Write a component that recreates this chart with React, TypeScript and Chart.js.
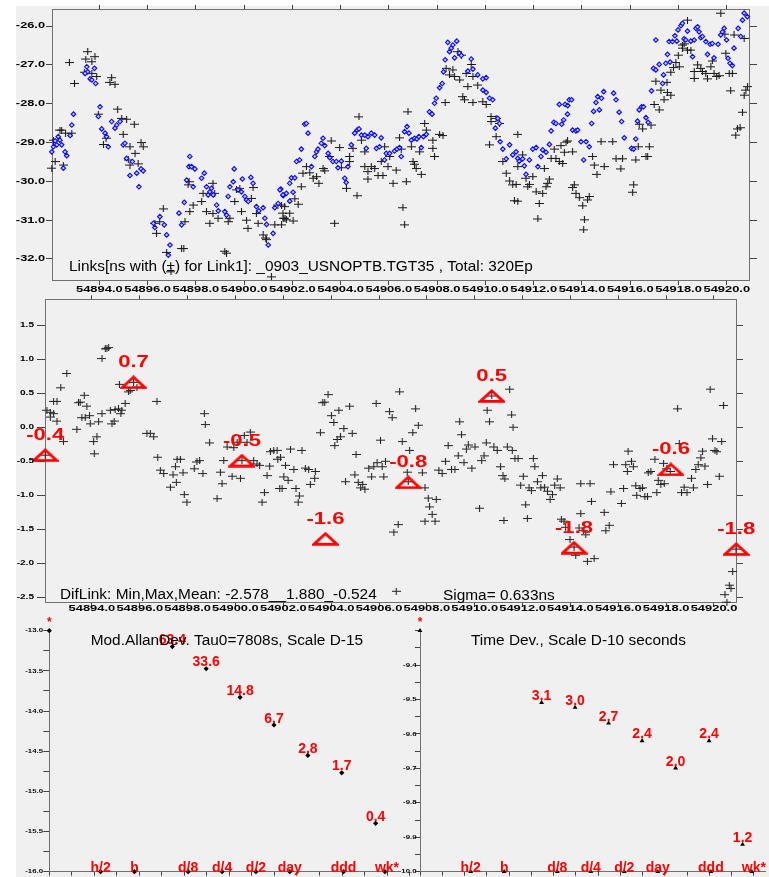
import React, { useEffect, useRef } from 'react';
import { Chart, registerables } from 'chart.js';
Chart.register(...registerables);

// ---------------- data ----------------
// Link1 (black crosses): [MJD, ns]
const link1: [number, number][] = [
  [54892.03,-29.66],[54892.17,-29.49],[54892.1,-28.94],[54892.37,-28.68],[54892.44,-28.68],[54892.51,-29.58],[54892.6,-28.76],[54892.86,-28.76],[54892.76,-26.94],[54892.97,-27.48],
  [54893.52,-26.66],[54893.44,-26.85],[54893.69,-26.92],[54893.82,-26.79],[54893.38,-27.19],[54893.69,-27.22],[54893.89,-27.3],[54894.51,-27.33],[54894.44,-27.45],[54894.65,-27.5],
  [54893.96,-28.27],[54894.76,-28.14],[54894.93,-28.38],[54895.13,-28.4],[54895.45,-28.53],[54894.99,-28.79],[54894.28,-28.89],[54894.17,-29.05],[54895.27,-29.11],[54895.48,-29.28],
  [54895.73,-29.0],[54895.82,-29.11],[54895.2,-29.45],[54895.27,-29.58],[54895.61,-29.55],[54896.3,-31.08],[54896.65,-30.71],[54896.5,-31.04],[54896.37,-31.34],[54896.79,-31.83],
  [54896.97,-32.33],[54897.41,-31.73],[54897.5,-31.73],[54897.55,-31.04],[54897.68,-30.09],[54897.72,-30.01],[54897.75,-30.78],[54897.89,-30.61],[54898.24,-30.52],[54898.3,-30.31],
  [54898.44,-30.78],[54898.58,-31.08],[54898.71,-30.05],[54898.78,-30.31],[54898.71,-30.83],[54898.92,-30.95],[54899.27,-31.85],[54899.2,-31.8],[54899.34,-31.04],[54899.41,-30.95],
  [54899.61,-30.52],[54899.68,-30.22],[54899.82,-30.18],[54899.89,-30.78],[54900.1,-31.0],[54900.16,-31.21],[54900.3,-30.44],[54900.37,-30.16],[54900.51,-30.83],[54900.58,-31.08],
  [54900.79,-31.38],[54900.9,-31.46],[54900.92,-31.5],[54901.13,-32.46],[54901.27,-31.12],[54901.4,-30.61],[54901.62,-30.95],[54901.69,-30.95],
  [54901.55,-30.61],[54901.61,-30.82],[54901.89,-30.82],[54901.75,-30.99],[54902.03,-31.02],[54901.55,-31.12],[54902.1,-30.45],[54902.24,-30.59],[54901.68,-30.65],[54902.37,-30.14],
  [54902.44,-29.79],[54902.72,-29.78],[54902.58,-29.62],[54902.86,-29.92],[54903.0,-29.88],[54903.1,-30.05],[54903.34,-29.73],[54903.27,-29.67],[54903.61,-28.96],[54903.55,-29.36],
  [54903.75,-31.08],[54903.96,-29.13],[54904.03,-29.65],[54904.24,-30.18],[54904.37,-29.36],[54904.37,-29.49],[54904.51,-29.15],[54904.68,-30.37],[54904.76,-28.34],[54904.86,-28.94],
  [54905.0,-29.24],[54905.0,-29.62],[54905.13,-29.75],[54905.13,-29.94],[54905.27,-29.62],[54905.41,-29.67],[54905.55,-29.85],[54905.68,-29.49],[54905.75,-29.85],[54905.82,-29.11],
  [54905.96,-29.62],[54906.03,-29.36],[54906.17,-30.05],[54906.3,-29.71],[54906.44,-28.88],[54906.51,-29.17],[54906.58,-30.68],[54906.65,-31.12],[54906.79,-28.21],[54906.72,-30.01],
  [54906.93,-29.11],[54907.0,-29.49],[54907.06,-29.56],[54907.13,-29.67],[54907.27,-29.24],[54907.34,-29.82],[54907.48,-28.51],[54907.55,-28.68],[54907.82,-28.94],[54907.82,-29.15],
  [54907.89,-29.36],[54908.1,-28.79],[54908.24,-28.82],[54908.33,-27.97],[54908.37,-27.09],[54908.51,-27.26],[54908.65,-27.13],[54908.72,-27.3],[54908.93,-27.39],[54908.86,-26.66],
  [54909.0,-26.75],[54909.2,-27.22],[54909.41,-26.99],[54909.48,-27.3],[54909.27,-27.56],[54909.68,-27.52],[54909.06,-27.82],[54909.13,-27.9],[54909.48,-27.97],[54909.89,-27.95],
  [54910.03,-28.02],[54910.23,-28.33],[54910.44,-28.38],[54910.58,-28.51],[54910.23,-28.46],[54910.17,-29.06],[54910.44,-28.85],[54910.72,-29.49],[54910.86,-29.79],[54911.0,-29.99],
  [54911.2,-30.5],[54911.34,-28.79],[54911.13,-30.09],
  [54911.34,-29.62],[54911.27,-30.08],[54911.34,-30.51],[54911.54,-29.32],[54911.68,-29.92],[54911.82,-30.08],[54911.96,-29.88],[54911.75,-30.14],[54912.1,-30.27],[54912.17,-30.97],
  [54912.23,-30.57],[54912.37,-30.31],[54912.44,-29.67],[54912.51,-30.14],[54912.58,-30.05],[54912.65,-29.94],[54912.72,-29.41],[54912.85,-29.17],[54912.92,-29.41],[54913.13,-29.08],
  [54913.06,-29.49],[54913.2,-29.54],[54913.27,-29.25],[54913.34,-28.99],[54913.4,-28.96],[54913.61,-29.24],[54913.68,-30.09],[54913.61,-30.16],[54913.75,-30.31],[54913.89,-30.42],
  [54914.03,-30.63],[54914.1,-30.99],[54914.07,-31.25],[54914.23,-30.48],[54914.3,-30.39],[54914.44,-29.36],[54914.51,-29.58],[54914.62,-29.82],[54914.79,-28.98],[54914.92,-29.62],
  [54915.27,-28.98],[54915.41,-29.42],[54915.61,-29.68],[54915.68,-29.42],[54916.1,-30.28],[54916.14,-30.09],[54916.23,-29.45],[54916.33,-29.11],[54916.37,-28.53],[54916.51,-28.65],
  [54916.65,-29.36],[54916.79,-29.11],[54916.72,-29.36],[54916.86,-28.55],[54916.99,-28.02],[54917.06,-27.42],[54917.2,-28.16],[54917.27,-27.65],[54917.4,-27.9],[54917.52,-27.45],
  [54917.54,-27.71],[54917.68,-27.78],[54917.68,-27.19],[54917.79,-27.07],[54917.89,-26.94],[54917.99,-26.75],[54918.03,-27.05],[54918.16,-26.57],[54918.16,-26.49],[54918.23,-26.46],
  [54918.37,-25.85],[54918.37,-26.62],[54918.51,-26.62],[54918.65,-27.17],[54918.65,-27.35],[54918.79,-27.0],[54918.92,-27.09],[54918.99,-27.17],[54919.13,-27.22],[54919.2,-27.36],
  [54919.34,-27.05],[54919.4,-26.9],[54919.47,-27.22],[54919.58,-27.3],[54919.68,-27.28],[54919.75,-25.67],[54919.92,-26.21],[54919.96,-26.7],[54920.1,-27.22],[54920.23,-27.22],
  [54920.16,-27.67],[54920.3,-26.23],[54920.37,-28.81],[54920.44,-28.65],[54920.55,-28.62],[54920.65,-28.22],[54920.72,-27.78],[54920.79,-27.65],[54920.86,-27.56],[54920.72,-26.32],
];

// Link2 (blue diamonds): [MJD, ns]
const link2: [number, number][] = [
  [54892.03,-29.24],[54892.1,-29.11],[54892.24,-29.06],[54892.17,-28.96],[54892.3,-28.85],[54892.37,-28.94],[54892.44,-29.06],[54892.51,-29.66],[54892.58,-29.24],[54892.65,-29.34],
  [54892.79,-28.82],[54892.86,-28.55],[54892.93,-28.27],[54893.48,-27.05],[54893.52,-27.18],[54893.41,-27.22],[54893.62,-27.36],[54893.69,-27.39],[54893.8,-27.09],[54893.85,-27.48],
  [54894.03,-28.08],[54893.96,-28.33],[54894.51,-28.46],[54894.1,-28.65],[54894.24,-28.76],[54894.3,-28.85],[54894.37,-29.11],[54894.65,-28.63],[54894.72,-28.55],[54894.86,-28.46],
  [54894.99,-29.06],[54895.06,-29.02],[54895.13,-29.41],[54895.27,-29.85],[54895.37,-29.49],[54895.55,-29.79],[54895.64,-30.14],[54895.73,-29.68],[54895.82,-29.73],[54896.24,-31.08],
  [54896.3,-31.19],[54896.51,-30.91],[54896.69,-31.12],[54896.79,-31.38],[54896.93,-31.64],[54896.86,-31.9],[54897.3,-30.82],[54897.41,-31.12],[54897.52,-30.54],[54897.62,-29.97],
  [54897.75,-29.36],[54897.71,-29.62],[54897.82,-29.62],[54897.96,-29.68],[54897.89,-30.14],[54898.24,-29.92],[54898.35,-29.79],[54898.44,-30.14],[54898.51,-30.35],[54898.58,-30.27],
  [54898.65,-30.18],[54898.72,-30.35],[54898.86,-30.61],[54898.93,-30.76],[54899.2,-30.78],[54899.27,-30.87],[54899.34,-30.39],[54899.41,-30.14],[54899.55,-30.01],[54899.59,-29.68],
  [54899.75,-30.22],[54899.89,-30.27],[54899.93,-29.94],[54900.03,-30.39],[54900.1,-30.48],[54900.17,-30.52],[54900.28,-29.9],[54900.37,-30.05],[54900.51,-30.65],[54900.61,-30.76],
  [54900.79,-30.68],[54900.86,-30.95],[54900.93,-31.11],[54901.0,-31.64],[54901.2,-31.34],[54901.27,-30.68],[54901.41,-30.57],[54901.52,-30.2],[54901.62,-30.37],
  [54901.48,-30.22],[54901.61,-30.35],[54901.75,-30.31],[54901.89,-30.51],[54902.03,-30.28],[54901.89,-30.05],[54901.96,-29.91],[54902.1,-29.91],[54902.17,-29.49],[54902.3,-29.45],
  [54902.37,-29.17],[54902.51,-28.53],[54902.58,-28.51],[54902.65,-28.76],[54902.79,-29.62],[54902.93,-29.36],[54903.0,-29.24],[54903.06,-29.17],[54903.2,-29.02],[54903.27,-28.89],
  [54903.34,-29.08],[54903.48,-29.28],[54903.55,-29.39],[54903.68,-29.49],[54903.82,-29.49],[54903.89,-29.65],[54904.03,-29.48],[54904.17,-29.92],[54904.23,-30.03],[54904.3,-29.62],
  [54904.44,-29.06],[54904.58,-28.76],[54904.68,-28.68],[54904.76,-28.65],[54904.86,-28.81],[54905.0,-28.81],[54905.06,-29.15],[54905.13,-28.85],[54905.27,-28.76],[54905.41,-28.81],
  [54905.48,-29.15],[54905.61,-29.11],[54905.68,-28.88],[54905.82,-29.45],[54905.89,-29.28],[54906.03,-29.28],[54906.23,-29.22],[54906.33,-29.17],[54906.44,-29.13],[54906.51,-29.36],
  [54906.65,-28.72],[54906.75,-28.59],[54906.83,-28.76],[54906.93,-28.94],[54907.06,-28.89],[54907.16,-28.91],[54907.24,-28.85],[54907.34,-29.13],[54907.43,-28.85],[54907.55,-28.79],
  [54907.68,-28.21],[54907.79,-28.27],[54907.89,-27.99],[54907.96,-27.86],[54908.1,-27.59],[54908.21,-27.48],[54908.26,-27.18],[54908.33,-26.87],[54908.44,-26.42],[54908.51,-26.66],
  [54908.58,-26.57],[54908.65,-26.49],[54908.72,-26.82],[54908.81,-26.39],[54908.92,-26.7],[54909.0,-26.76],[54909.27,-27.16],[54909.41,-26.85],[54909.48,-27.11],[54909.68,-27.26],
  [54909.89,-27.36],[54910.03,-27.33],[54909.89,-27.65],[54910.03,-27.71],[54910.17,-27.86],[54910.3,-27.9],[54910.51,-28.38],[54910.58,-28.51],[54910.41,-28.63],[54910.61,-28.98],
  [54910.72,-29.17],[54910.86,-29.42],[54911.0,-29.06],[54911.13,-29.32],[54911.27,-29.24],[54911.34,-29.41],
  [54911.4,-29.48],[54911.54,-29.42],[54911.61,-29.6],[54911.68,-29.82],[54911.82,-29.45],[54911.96,-29.17],[54912.1,-29.13],[54912.17,-29.62],[54912.3,-29.36],[54912.37,-29.19],
  [54912.51,-29.25],[54912.65,-29.05],[54912.72,-28.7],[54912.83,-28.48],[54912.92,-28.51],[54913.06,-28.02],[54913.16,-28.53],[54913.24,-28.42],[54913.3,-28.02],[54913.41,-28.05],
  [54913.47,-27.9],[54913.57,-27.9],[54913.4,-28.27],[54913.61,-28.68],[54913.75,-28.7],[54913.82,-28.68],[54913.96,-28.98],[54914.07,-29.45],[54914.17,-28.98],[54914.3,-29.11],
  [54914.4,-28.51],[54914.48,-28.2],[54914.58,-27.97],[54914.65,-27.82],[54914.72,-28.16],[54914.81,-27.86],[54914.9,-27.69],[54915.31,-27.73],[54915.41,-27.9],[54915.54,-28.22],
  [54915.64,-28.46],[54915.75,-28.88],[54916.05,-29.15],[54916.14,-29.17],[54916.23,-28.91],[54916.3,-28.45],[54916.37,-28.16],[54916.47,-28.08],[54916.55,-28.08],[54916.65,-28.36],
  [54916.74,-28.48],[54916.88,-27.67],[54916.96,-27.09],[54917.06,-27.13],[54917.06,-26.36],[54917.2,-26.99],[54917.34,-27.48],[54917.38,-27.26],[54917.47,-26.96],[54917.54,-26.73],
  [54917.65,-26.93],[54917.61,-26.4],[54917.75,-26.4],[54917.85,-26.25],[54917.93,-26.39],[54917.98,-26.1],[54918.1,-25.99],[54918.16,-25.93],[54918.23,-26.33],[54918.3,-26.36],
  [54918.37,-26.13],[54918.51,-26.39],[54918.58,-26.79],[54918.65,-26.36],[54918.72,-26.06],[54918.79,-26.02],[54918.85,-26.15],[54918.92,-26.3],[54918.99,-26.27],[54919.13,-26.4],
  [54919.2,-26.73],[54919.31,-26.47],[54919.4,-26.45],[54919.47,-26.82],[54919.64,-26.47],[54919.75,-26.23],[54919.82,-26.15],[54919.89,-26.06],[54919.99,-26.36],[54920.05,-26.83],
  [54920.13,-26.96],[54920.23,-27.02],[54920.3,-26.57],[54920.47,-26.06],[54920.58,-26.27],[54920.65,-25.85],[54920.72,-25.67],[54920.85,-25.76],
];

// DifLink (crosses, middle panel): [MJD, ns]
const difLink: [number, number][] = [
  [54892.12,0.25],[54892.26,0.22],[54892.4,0.2],[54892.26,0.15],[54892.54,0.09],[54892.4,0.38],[54892.54,0.38],[54892.7,0.58],[54892.95,0.79],[54892.81,-0.21],
  [54892.05,-0.41],[54893.37,-0.03],[54893.44,0.36],[54893.51,0.37],[54893.68,0.47],[54893.79,0.31],[54893.58,0.14],[54893.72,0.14],[54893.9,0.17],[54893.93,0.05],
  [54894.07,-0.21],[54894.21,-0.14],[54894.1,-0.39],[54894.28,0.08],[54894.42,0.2],[54894.42,1.01],[54894.56,1.15],[54894.63,1.16],[54894.7,1.17],[54894.84,0.05],
  [54894.93,0.09],[54894.77,0.25],[54894.97,0.26],[54895.11,0.27],[54895.21,0.2],[54895.25,0.25],[54895.39,0.35],[54895.15,0.63],[54895.53,0.52],[54895.6,0.54],
  [54895.74,0.66],[54895.88,0.59],[54896.72,0.38],[54896.3,-0.09],[54896.44,-0.09],[54896.58,-0.14],[54896.75,-0.44],[54896.86,-0.63],[54897.0,-0.68],[54897.28,-0.88],
  [54897.39,-0.7],[54897.49,-0.58],[54897.53,-0.81],[54897.56,-0.47],[54897.7,-0.47],[54897.81,-0.67],[54897.86,-0.99],[54897.97,-1.1],[54898.28,-0.61],[54898.39,-0.51],
  [54898.5,-0.49],[54898.64,-0.68],[54898.7,0.2],[54898.74,0.04],[54898.92,-0.23],[54899.23,-1.05],[54899.37,-0.66],[54899.44,-0.83],[54899.51,-0.49],[54899.65,-0.29],
  [54899.86,-0.72],[54899.93,-0.3],[54900.07,-0.22],[54900.21,-0.75],[54900.27,-0.49],[54900.37,-0.12],[54900.48,-0.22],[54900.62,-0.07],[54900.76,-0.49],[54900.9,-0.54],
  [54901.01,-0.56],[54901.11,-1.1],[54901.21,-0.96],[54901.32,-0.71],[54901.43,-0.57],[54901.46,-0.36],[54901.6,-0.34],[54901.77,-0.47],[54901.85,-0.9],
  [54901.74,-0.34],[54901.88,-0.44],[54902.09,-0.56],[54902.3,-0.32],[54902.44,-0.62],[54902.02,-0.73],[54902.2,-0.78],[54901.95,-0.9],[54902.53,-0.9],[54902.67,-1.01],
  [54902.62,-1.1],[54902.78,-0.34],[54902.92,-0.6],[54903.06,-0.62],[54903.31,-0.75],[54903.13,-0.84],[54903.34,-0.65],[54903.55,-0.08],[54903.65,0.36],[54903.73,0.37],
  [54903.87,0.48],[54904.01,0.17],[54904.11,0.07],[54904.32,0.25],[54904.25,-0.18],[54904.39,-0.14],[54904.15,-0.27],[54904.53,-0.02],[54904.77,0.31],[54904.88,-0.09],
  [54905.04,-0.4],[54904.6,-0.8],[54904.99,-0.7],[54905.13,-0.81],[54905.32,-0.84],[54905.23,-0.89],[54905.41,-0.91],[54905.57,-0.6],[54905.69,-0.73],[54905.78,-0.58],
  [54905.88,0.35],[54905.92,-0.52],[54906.06,-0.19],[54906.13,-0.58],[54906.2,-0.73],[54906.27,-0.5],[54906.44,0.23],[54906.55,0.14],[54906.62,-1.54],[54906.8,-1.43],
  [54906.72,-2.41],[54906.86,0.52],[54906.97,-0.21],[54907.18,-0.66],[54907.22,-0.8],[54907.28,-0.34],[54907.41,-0.08],[54907.53,0.27],[54907.64,0.03],[54907.81,-0.67],
  [54907.92,-0.89],[54908.06,-1.04],[54908.11,-1.17],[54908.22,-1.28],[54907.92,-1.38],[54908.34,-1.38],[54908.39,-1.06],[54908.5,-0.63],[54908.64,-0.68],[54908.78,-0.5],
  [54908.89,-0.27],[54909.03,-0.62],[54909.17,-0.62],[54909.31,-0.42],[54909.37,0.08],[54909.45,-0.11],[54909.55,-0.52],[54909.65,-0.32],[54909.73,-0.26],[54909.88,-0.6],
  [54910.01,-0.29],[54910.2,-1.19],[54910.29,-0.49],[54910.39,-0.42],[54910.48,-0.23],[54910.52,0.25],[54910.62,0.08],[54910.71,0.46],[54910.8,-0.29],[54910.94,-0.34],
  [54911.08,-0.58],[54911.18,-0.71],[54911.26,-0.76],[54911.22,-1.37],[54911.36,-0.29],[54911.46,0.56],[54911.54,0.18],[54911.6,0.0],[54911.68,-0.46],
  [54911.57,-0.34],[54911.81,-0.46],[54912.03,-0.72],[54911.92,-0.85],[54912.13,-1.14],[54912.2,-1.34],[54912.27,-0.89],[54912.37,-0.93],[54912.45,-0.46],[54912.51,-0.58],
  [54912.62,-0.8],[54912.76,-0.89],[54912.83,-0.71],[54912.92,-0.88],[54913.04,-0.94],[54913.15,-1.06],[54913.25,-0.99],[54913.34,-0.85],[54913.45,-0.76],[54913.57,-0.89],
  [54913.62,-1.35],[54913.73,-1.38],[54913.8,-1.47],[54913.98,-1.65],[54914.15,-1.76],[54914.22,-1.88],[54914.36,-1.48],[54914.43,-1.27],[54914.54,-1.52],[54914.64,-1.58],
  [54914.71,-1.97],[54914.82,-0.83],[54914.88,-1.09],[54914.99,-1.93],[54914.43,-0.83],[54915.41,-1.25],[54915.48,-1.52],[54915.62,-1.44],[54915.69,-0.95],[54915.8,-0.55],
  [54916.13,-1.12],[54916.22,-0.9],[54916.31,-0.55],[54916.38,-0.65],[54916.41,-0.35],[54916.55,-0.5],[54916.63,-0.58],[54916.73,-0.86],[54916.77,-1.0],[54916.91,-0.9],
  [54917.01,-0.89],[54917.11,-1.02],[54917.22,-1.02],[54917.25,-0.67],[54917.36,-0.65],[54917.53,-0.47],[54917.61,-0.96],[54917.67,-0.78],[54917.78,-0.84],[54917.89,-0.53],
  [54917.92,-0.83],[54918.03,-0.61],[54918.17,-0.65],[54918.48,0.27],[54918.55,-0.24],[54918.64,-0.96],[54918.75,-0.88],[54918.87,-0.96],[54919.06,-0.75],[54919.14,-0.89],
  [54919.24,-0.62],[54919.34,-0.55],[54919.45,-0.45],[54919.52,-0.35],[54919.62,-0.57],[54919.73,-0.84],[54919.84,0.56],[54919.94,-0.17],[54920.04,-0.34],[54920.12,-0.36],
  [54920.22,-0.72],[54920.32,-0.21],[54920.4,0.32],[54920.46,-2.46],[54920.54,-2.57],[54920.64,-2.32],[54920.71,-2.37],[54920.78,-2.12],[54920.92,-1.79],
];

// mean markers (red triangles) in middle panel
const meanDays = [54892.05, 54895.74, 54900.27, 54903.76, 54907.22, 54910.71, 54914.15, 54918.2, 54920.93];
const meanVals = [-0.41, 0.66, -0.49, -1.64, -0.81, 0.46, -1.77, -0.62, -1.79];
const meanLabels = ['-0.4', '0.7', '-0.5', '-1.6', '-0.8', '0.5', '-1.8', '-0.6', '-1.8'];

const timeTicks = [54894, 54896, 54898, 54900, 54902, 54904, 54906, 54908, 54910, 54912, 54914, 54916, 54918, 54920];
const linkTicks = [-32, -31, -30, -29, -28, -27, -26];
const difTicks = [-2.5, -2.0, -1.5, -1.0, -0.5, 0.0, 0.5, 1.0, 1.5];

// stability panels
const tauSeconds = [7808, 15616, 31232, 62464, 124928, 249856, 499712];
const mdevScaled = [63.4, 33.6, 14.8, 6.7, 2.8, 1.7, 0.4]; // x 1e-15
const mdevLabels = ['63.4', '33.6', '14.8', '6.7', '2.8', '1.7', '0.4'];
const tdevScaled = [3.1, 3.0, 2.7, 2.4, 2.0, 2.4, 1.2]; // x 1e-10 s
const tdevLabels = ['3.1', '3.0', '2.7', '2.4', '2.0', '2.4', '1.2'];
const refTauNames = ['h/2', 'h', 'd/8', 'd/4', 'd/2', 'day', 'ddd', 'wk*'];
const refTauSeconds = [1800, 3600, 10800, 21600, 43200, 86400, 259200, 604800];
const mdevTickLabels = [-16.0, -15.5, -15.0, -14.5, -14.0, -13.5, -13.0];
const tdevTickLabels = [-10.0, -9.9, -9.8, -9.7, -9.6, -9.5, -9.4];

// ---------------- helpers ----------------
const FONT = '"Liberation Sans", Arial, sans-serif';

function txt(ctx: any, s: string, x: number, y: number, font: string, color: string,
  align: string = 'left', baseline: string = 'middle', sx: number = 1) {
  ctx.save();
  ctx.font = font + ' ' + FONT;
  ctx.fillStyle = color;
  ctx.textAlign = align;
  ctx.textBaseline = baseline;
  ctx.translate(x, y);
  ctx.scale(sx, 1);
  ctx.fillText(s, 0, 0);
  ctx.restore();
}

function makeCross(w: number, h: number, color: string) {
  const c = document.createElement('canvas');
  c.width = w; c.height = h;
  const g = c.getContext('2d')!;
  g.strokeStyle = color; g.lineWidth = 1.1;
  const cy = Math.floor(h / 2) + 0.5, cx = Math.floor(w / 2) + 0.5;
  g.beginPath();
  g.moveTo(0, cy); g.lineTo(w, cy);
  g.moveTo(cx, 0); g.lineTo(cx, h);
  g.stroke();
  return c;
}

function makeTriangle(w: number, h: number, color: string) {
  const c = document.createElement('canvas');
  c.width = w; c.height = h;
  const g = c.getContext('2d')!;
  g.strokeStyle = color; g.lineWidth = 2.8; g.lineJoin = 'miter';
  g.beginPath();
  g.moveTo(2, h - 1.6); g.lineTo(w - 2, h - 1.6); g.lineTo(w / 2, 1.8); g.closePath();
  g.stroke();
  return c;
}

const BORDER = '#707070';
const TICK = '#444';

function axis(position: string, min: number, max: number, size: number, tickLength: number, ticks?: number[] | null, step?: number) {
  const o: any = {
    type: 'linear', position, min, max,
    grid: { display: true, drawOnChartArea: false, drawTicks: true, tickLength, color: TICK, lineWidth: 1 },
    border: { display: true, color: BORDER, width: 1 },
    ticks: { display: false },
    afterFit: (s: any) => {
      if (position === 'left' || position === 'right') s.width = size; else s.height = size;
    },
  };
  if (ticks) o.afterBuildTicks = (s: any) => { s.ticks = ticks.map((v) => ({ value: v })); };
  if (step) o.afterBuildTicks = (s: any) => {
    const arr: any[] = [];
    const n = Math.round((max - min) / step);
    for (let i = 0; i <= n; i++) arr.push({ value: min + i * step });
    s.ticks = arr;
  };
  return o;
}

const T_MIN = 54892.04, T_MAX = 54920.92;

function baseOptions(padding: any, scales: any) {
  return {
    responsive: false,
    animation: false,
    events: [],
    layout: { padding },
    plugins: { legend: { display: false }, tooltip: { enabled: false }, title: { display: false } },
    scales,
  };
}

function topConfig(cross: any) {
  const plugin = {
    id: 'topText',
    afterDraw(chart: any) {
      const { ctx, scales } = chart;
      timeTicks.forEach((v) => txt(ctx, v.toFixed(1), scales.x.getPixelForValue(v), 289, 'bold 9.5px', '#000', 'center', 'middle', 1.36));
      linkTicks.forEach((v) => txt(ctx, v.toFixed(1), 45, scales.y.getPixelForValue(v), 'bold 9px', '#000', 'right', 'middle', 1.42));
      txt(ctx, 'Links[ns with (\u00b1) for Link1]: _0903_USNOPTB.TGT35 , Total: 320Ep', 69, 267, '14px', '#000', 'left', 'middle', 1.1);
    },
  };
  return {
    type: 'scatter',
    data: {
      datasets: [
        { data: link2.map(([x, y]) => ({ x, y })), pointStyle: 'rectRot', radius: 2.3, borderWidth: 1.1, borderColor: '#0a0aff', backgroundColor: '#c4c4ff', clip: false, xAxisID: 'x', yAxisID: 'y' },
        { data: link1.map(([x, y]) => ({ x, y })), pointStyle: cross, radius: 4, borderWidth: 0, clip: false, xAxisID: 'x', yAxisID: 'y' },
      ],
    },
    options: baseOptions({ top: 5, left: 0, right: 0, bottom: 0 }, {
      x: axis('bottom', T_MIN, T_MAX, 20, 5, timeTicks),
      xt: axis('top', T_MIN, T_MAX, 4, 4, timeTicks),
      y: axis('left', -32.541, -25.562, 52, 6, linkTicks),
      yr: axis('right', -32.541, -25.562, 20, 8, linkTicks),
    }),
    plugins: [plugin],
  };
}

function midConfig(cross: any, tri: any) {
  const plugin = {
    id: 'midText',
    afterDraw(chart: any) {
      const { ctx, scales } = chart;
      timeTicks.forEach((v) => txt(ctx, v.toFixed(1), scales.x.getPixelForValue(v), 318, 'bold 9.5px', '#000', 'center', 'middle', 1.36));
      difTicks.forEach((v) => txt(ctx, v.toFixed(1), 34, scales.y.getPixelForValue(v), 'bold 7.5px', '#000', 'right', 'middle', 1.34));
      meanDays.forEach((d, i) => {
        const px = scales.x.getPixelForValue(d);
        const py = scales.y.getPixelForValue(meanVals[i]);
        txt(ctx, meanLabels[i], px, py - 15, 'bold 16px', '#ff0000', 'center', 'alphabetic', 1.38);
      });
      txt(ctx, 'DifLink: Min,Max,Mean: -2.578__1.880_-0.524', 60, 305, '14px', '#000', 'left', 'middle', 1.1);
      txt(ctx, 'Sigma= 0.633ns', 443, 306, '14px', '#000', 'left', 'middle', 1.1);
    },
  };
  return {
    type: 'scatter',
    data: {
      datasets: [
        { data: meanDays.map((x, i) => ({ x, y: meanVals[i] })), pointStyle: tri, radius: 6, clip: false, xAxisID: 'x', yAxisID: 'y' },
        { data: difLink.map(([x, y]) => ({ x, y })), pointStyle: cross, radius: 4, clip: false, xAxisID: 'x', yAxisID: 'y' },
      ],
    },
    options: baseOptions({ top: 5, left: 0, right: 0, bottom: 0 }, {
      x: axis('bottom', T_MIN, T_MAX, 17.3, 4, timeTicks),
      xt: axis('top', T_MIN, T_MAX, 4.3, 4, timeTicks),
      y: axis('left', -2.578, 1.88, 45, 8, difTicks),
      yr: axis('right', -2.578, 1.88, 33, 7, difTicks),
    }),
    plugins: [plugin],
  };
}

const LOG_MIN = 2.8, LOG_MAX = 5.9;

function stabConfig(kind: 'mdev' | 'tdev') {
  const isM = kind === 'mdev';
  const vals = isM ? mdevScaled.map((v) => Math.log10(v * 1e-15)) : tdevScaled.map((v) => Math.log10(v * 1e-10));
  const labels = isM ? mdevLabels : tdevLabels;
  const yMin = isM ? -16 : -10;
  const yMax = isM ? -13 : -9.3;
  const style = isM ? 'rectRot' : 'triangle';
  const rad = isM ? 2.6 : 2.8;
  const leftW = isM ? 49.3 : 22;
  const labelRight = isM ? 43 : 18.5;
  const plugin = {
    id: 'stabText' + kind,
    afterDraw(chart: any) {
      const { ctx, scales } = chart;
      const yl = isM ? mdevTickLabels : tdevTickLabels;
      yl.forEach((v) => txt(ctx, v.toFixed(1), labelRight, scales.y.getPixelForValue(v), 'bold 6px', '#000', 'right', 'middle', 1.3));
      tauSeconds.forEach((t, i) => {
        const px = scales.x.getPixelForValue(Math.log10(t));
        const py = scales.y.getPixelForValue(vals[i]);
        txt(ctx, labels[i], px, py - 2.5, 'bold 14px', '#ff0000', 'center', 'alphabetic', 1.0);
      });
      refTauSeconds.forEach((t, i) => {
        const px = scales.x.getPixelForValue(Math.log10(t));
        txt(ctx, refTauNames[i], px + (i === 7 ? 2 : 0), chart.chartArea.bottom, 'bold 14px', '#ff0000', 'center', 'alphabetic', 1.0);
      });
      txt(ctx, '*', chart.chartArea.left, 13, 'bold 12px', '#ff0000', 'center', 'middle', 1.0);
      if (isM) txt(ctx, 'Mod.AllanDev. Tau0=7808s, Scale D-15', 90.7, 31, '14px', '#000', 'left', 'middle', 1.1);
      else txt(ctx, 'Time Dev., Scale D-10 seconds', 73, 31, '14px', '#000', 'left', 'middle', 1.1);
    },
  };
  const pt = { pointStyle: style, radius: rad, borderWidth: 0, backgroundColor: '#000', borderColor: '#000', clip: false, xAxisID: 'x', yAxisID: 'y' };
  return {
    type: 'scatter',
    data: {
      datasets: [
        { ...pt, data: tauSeconds.map((t, i) => ({ x: Math.log10(t), y: vals[i] })) },
        { ...pt, data: refTauSeconds.map((t) => ({ x: Math.log10(t), y: yMin })) },
        { ...pt, data: [{ x: LOG_MIN, y: yMax }] },
      ],
    },
    options: baseOptions({ top: 20.7, left: 0, right: isM ? 11.7 : 2.3, bottom: 0 }, {
      x: axis('bottom', LOG_MIN, LOG_MAX, 5.3, 4, null, 0.2),
      y: axis('left', yMin, yMax, leftW, isM ? 6 : 5, null, isM ? 0.25 : 0.05),
    }),
    plugins: [plugin],
  };
}

export default function App() {
  const r1 = useRef<HTMLCanvasElement>(null);
  const r2 = useRef<HTMLCanvasElement>(null);
  const r3 = useRef<HTMLCanvasElement>(null);
  const r4 = useRef<HTMLCanvasElement>(null);

  useEffect(() => {
    const cross1 = makeCross(9, 7, '#1a1a1a');
    const cross2 = makeCross(9, 7, '#262626');
    const tri = makeTriangle(27, 14, '#ff0000');
    const charts = [
      new Chart(r1.current as any, topConfig(cross1) as any),
      new Chart(r2.current as any, midConfig(cross2, tri) as any),
      new Chart(r3.current as any, stabConfig('mdev') as any),
      new Chart(r4.current as any, stabConfig('tdev') as any),
    ];
    return () => charts.forEach((c) => c.destroy());
  }, []);

  const abs = (l: number, t: number): any => ({ position: 'absolute', left: l, top: t });
  return (
    <div style={{ position: 'absolute', left: 0, top: 0, width: 769, height: 877, background: '#ffffff', overflow: 'hidden' }}>
      <div style={{ position: 'absolute', left: 16, top: 6, width: 753, height: 871, background: '#f0f0f0' }} />
      <canvas ref={r1} width={769} height={300} style={abs(0, 0)} />
      <canvas ref={r2} width={769} height={330} style={abs(0, 290)} />
      <canvas ref={r3} width={410} height={267} style={abs(0, 610)} />
      <canvas ref={r4} width={371} height={267} style={abs(398, 610)} />
    </div>
  );
}
